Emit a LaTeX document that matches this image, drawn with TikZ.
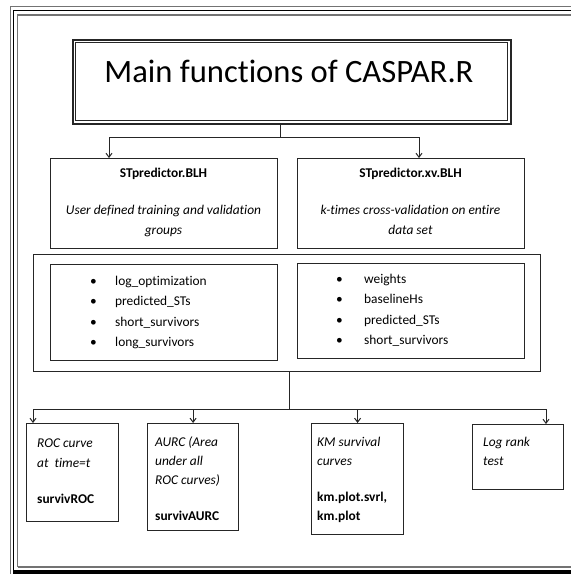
\documentclass[tikz,border=0pt]{standalone}
\usepackage{fontspec}
\setmainfont{Carlito}[Ligatures={NoCommon}]
\usetikzlibrary{arrows.meta,calc}
\tikzset{
  line/.style={draw=black!85, line width=1pt},
  arr/.style={line, -{Straight Barb[length=4pt,width=6pt]}},
  box/.style={draw=black!85, line width=1.2pt, inner sep=0pt, anchor=north west},
  txt/.style={inner sep=0pt, font=\fontsize{13.4}{20}\selectfont},
  fgray/.style={draw=black!55, line width=1.2pt},
  fblack/.style={draw=black, line width=1.6pt}
}
\begin{document}
\begin{tikzpicture}[x=1pt,y=-1pt]
\useasboundingbox (0,0) rectangle (571,574);
% outer page frame (extends past the right edge)
\draw[fgray] (10.5,600) -- (10.5,6.5) -- (600,6.5);
\draw[fblack] (13.5,600) -- (13.5,10.5) -- (600,10.5);
\draw[fgray] (17.5,567) -- (17.5,15) -- (600,15);
\draw[fgray] (17.5,567) -- (600,567);
\fill[black] (13.5,570) rectangle (600,576);

% title
\node[box, line width=2.2pt, minimum width=438, minimum height=84] (title) at (71.5,38.5) {};
\draw[draw=black!85, line width=1pt] ([shift={(4,3.5)}]title.north west) rectangle ([shift={(-4,-4)}]title.south east);
\node[inner sep=0pt, font=\fontsize{32.6}{36}\selectfont, anchor=base] (titlet) at (289,82) {Main functions of CASPAR.R};

% second row
\node[box, minimum width=227, minimum height=90] (blh) at (50,158) {};
\node[box, minimum width=227, minimum height=90] (xv) at (297,158) {};
\node[txt, anchor=base] (blht) at (163.5,177) {\textbf{STpredictor.BLH}};
\node[txt, anchor=base, align=center] (blhd) at (163.5,234) {\textit{User defined training and validation}\\\textit{groups}};
\node[txt, anchor=base] (xvt) at (410.5,177) {\textbf{STpredictor.xv.BLH}};
\node[txt, anchor=base, align=center] (xvd) at (410.5,234) {\textit{k-times cross-validation on entire}\\\textit{data set}};

% container with outputs
\node[box, minimum width=507, minimum height=117] (cont) at (33,254) {};
\node[box, minimum width=227, minimum height=96] (outl) at (50,264) {};
\node[box, minimum width=227, minimum height=95] (outr) at (297,263) {};
\node[txt, anchor=base west, align=left, font=\fontsize{13.4}{20.5}\selectfont] (bl) at (90,346.5) {•\\•\\•\\•};
\node[txt, anchor=base west, align=left, font=\fontsize{13.4}{20.5}\selectfont] (ll) at (115,346.5) {log\_optimization\\predicted\_STs\\short\_survivors\\long\_survivors};
\node[txt, anchor=base west, align=left, font=\fontsize{13.4}{20.5}\selectfont] (br) at (336,344.5) {•\\•\\•\\•};
\node[txt, anchor=base west, align=left, font=\fontsize{13.4}{20.5}\selectfont] (lr) at (364,344.5) {weights\\baselineHs\\predicted\_STs\\short\_survivors};

% bottom row
\node[box, minimum width=92, minimum height=98] (roc) at (26,423) {};
\node[box, minimum width=91, minimum height=107] (aurc) at (147,423) {};
\node[box, minimum width=92, minimum height=111] (km) at (311,423) {};
\node[box, minimum width=91, minimum height=65] (lrk) at (472,424) {};
\node[txt, anchor=base west, align=left] (roct) at (37,503) {\textit{ROC curve}\\\textit{at\ \ time=t}\\[16pt]\textbf{survivROC}};
\node[txt, anchor=base west, align=left, font=\fontsize{13.4}{19}\selectfont] (aurct) at (155,520) {\textit{AURC (Area}\\\textit{under all}\\\textit{ROC curves)}\\[17pt]\textbf{survivAURC}};
\node[txt, anchor=base west, align=left, font=\fontsize{13.4}{18.5}\selectfont] (kmt) at (317,520) {\textit{KM survival}\\\textit{curves}\\[18pt]\textbf{km.plot.svrl,}\\\textbf{km.plot}};
\node[txt, anchor=base west, align=left, font=\fontsize{13.4}{19}\selectfont] (lrkt) at (483,465) {\textit{Log rank}\\\textit{test}};

% connectors top
\coordinate (j1) at (280,137);
\draw[line] (title.south -| j1) -- (j1);
\draw[arr] (j1) -| ([xshift=59]blh.north west);
\draw[arr] (j1) -| ([xshift=122]xv.north west);

% connectors bottom
\coordinate (j2) at (289,409);
\draw[line] (cont.south -| j2) -- (j2);
\draw[arr] (j2) -| ([xshift=7]roc.north west);
\draw[arr] (j2) -| (aurc.north);
\draw[arr] (j2) -| (km.north);
\draw[arr] (j2) -| ([xshift=74]lrk.north west);
\end{tikzpicture}
\end{document}
